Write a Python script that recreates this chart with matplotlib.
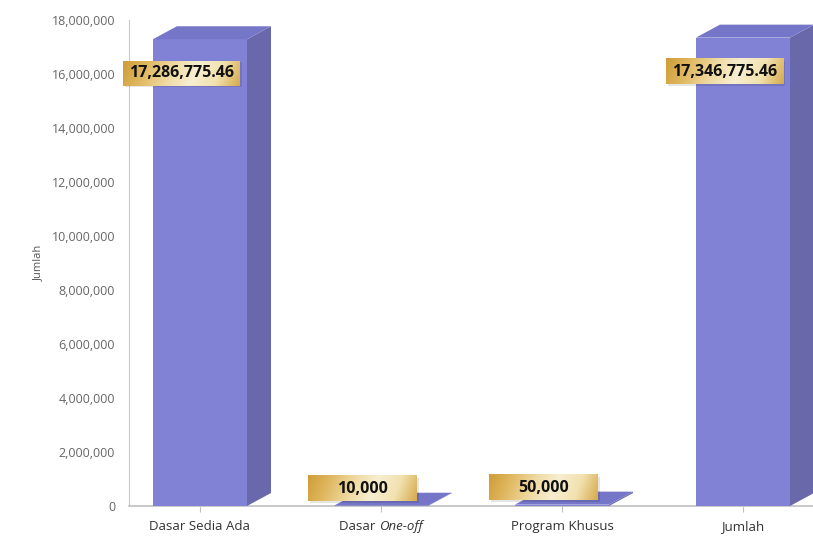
import matplotlib
matplotlib.use("Agg")
import matplotlib.pyplot as plt
import numpy as np
from matplotlib.patches import Polygon
from matplotlib.ticker import FuncFormatter
from matplotlib.colors import LinearSegmentedColormap

plt.rcParams['font.family'] = ['Open Sans', 'DejaVu Sans']

categories = ['Dasar Sedia Ada', 'Dasar One-off', 'Program Khusus', 'Jumlah']
values = [17286775.46, 10000, 50000, 17346775.46]
value_labels = ['17,286,775.46', '10,000', '50,000', '17,346,775.46']
yticks = [0, 2000000, 4000000, 6000000, 8000000, 10000000, 12000000, 14000000, 16000000, 18000000]

W, H = 813, 538
fig = plt.figure(figsize=(W / 100, H / 100), dpi=100)
ax = fig.add_axes([129 / W, 32 / H, (W - 129) / W, 486 / H])

ax.set_xlim(-0.392, 3.387)
ax.set_ylim(0, 18000000)

# 3D-looking bars: front face, side face, top face
bar_w = 0.52
px_x = 1 / 181.0          # one pixel in category units
px_y = 18000000 / 486.0   # one pixel in value units
dx, dy = 24 * px_x, 13 * px_y
front_c, side_c, top_c = '#8181d6', '#6868aa', '#7676c8'

for i, v in enumerate(values):
    x0, x1 = i - bar_w / 2, i + bar_w / 2
    ax.add_patch(Polygon([(x0, 0), (x1, 0), (x1, v), (x0, v)], closed=True,
                         facecolor=front_c, edgecolor='none', zorder=3))
    ax.add_patch(Polygon([(x1, 0), (x1 + dx, dy), (x1 + dx, v + dy), (x1, v)], closed=True,
                         facecolor=side_c, edgecolor='none', zorder=3))
    ax.add_patch(Polygon([(x0, v), (x1, v), (x1 + dx, v + dy), (x0 + dx, v + dy)], closed=True,
                         facecolor=top_c, edgecolor='none', zorder=3))
for p in ax.patches:
    p.set_clip_on(False)

ax.set_yticks(yticks)
ax.yaxis.set_major_formatter(FuncFormatter(lambda v, _: f'{int(v):,}'))
ax.tick_params(axis='y', length=0, pad=10, labelsize=9, labelcolor='#666666')
ax.set_xticks(range(len(categories)))
ax.set_xticklabels(categories)
ax.tick_params(axis='x', length=4, width=0.8, color='#c0c0c0', pad=6,
               labelsize=9.5, labelcolor='#333333')

for s in ['top', 'right']:
    ax.spines[s].set_visible(False)
ax.spines['left'].set_color('#c8c8c8')
ax.spines['bottom'].set_color('#c0c0c0')
ax.spines['bottom'].set_linewidth(1.2)
ax.set_ylabel('Jumlah', fontsize=8, color='#555555')
ax.yaxis.set_label_coords(-85 / (W - 129), 0.5)

# value labels in gold gradient boxes
gold = LinearSegmentedColormap.from_list(
    'gold', ['#d09d38', '#e0b962', '#efd9a0', '#f7eed0', '#f2e2b0', '#d6aa4c'])
gx, gy = np.meshgrid(np.linspace(0, 1, 200), np.linspace(0, 1, 30))
grad = np.clip(gx * 0.92 + gy * 0.08, 0, 1)

texts = []
for i, v in enumerate(values):
    off = -34 if v > 1000000 else 17
    t = ax.annotate(value_labels[i], xy=(i, v), xytext=(-18, off), textcoords='offset pixels',
                    ha='center', va='center', fontsize=11.5, fontweight='bold',
                    color='#111111', zorder=6, annotation_clip=False)
    texts.append(t)

fig.canvas.draw()
r = fig.canvas.get_renderer()
inv = ax.transData.inverted()
for t in texts:
    bb = t.get_window_extent(r)
    cx, cy = (bb.x0 + bb.x1) / 2, (bb.y0 + bb.y1) / 2
    bw = max(bb.width + 12, 109)
    bh = 25
    x0, y0 = inv.transform((cx - bw / 2, cy - bh / 2))
    x1, y1 = inv.transform((cx + bw / 2, cy + bh / 2))
    sx, sy = inv.transform((cx - bw / 2 + 1.5, cy - bh / 2 - 1.5))
    ax.add_patch(plt.Rectangle((sx, sy), x1 - x0, y1 - y0, facecolor='#000000',
                               alpha=0.10, edgecolor='none', zorder=4, clip_on=False))
    im = ax.imshow(grad, cmap=gold, extent=(x0, x1, y0, y1), aspect='auto',
                   zorder=5, interpolation='bilinear', origin='upper')
    im.set_clip_on(False)

# "One-off" in italic: split the second category label into two texts
lab = ax.get_xticklabels()[1]
lb = lab.get_window_extent(r)
lab.set_visible(False)
part1, part2 = categories[1].split(' ', 1)
t1 = fig.text(0, 0, part1 + ' ', fontsize=9.5, color='#333333')
t2 = fig.text(0, 0, part2, fontsize=9.5, color='#333333', style='italic')
w1 = t1.get_window_extent(r).width
w2 = t2.get_window_extent(r).width
left = (lb.x0 + lb.x1) / 2 - (w1 + w2) / 2
t1.set_position((left / W, lb.y1 / H))
t1.set_va('top')
t2.set_position(((left + w1) / W, lb.y1 / H))
t2.set_va('top')

ax.set_xlim(-0.392, 3.387)
ax.set_ylim(0, 18000000)

fig.savefig('out.png', dpi=100)
